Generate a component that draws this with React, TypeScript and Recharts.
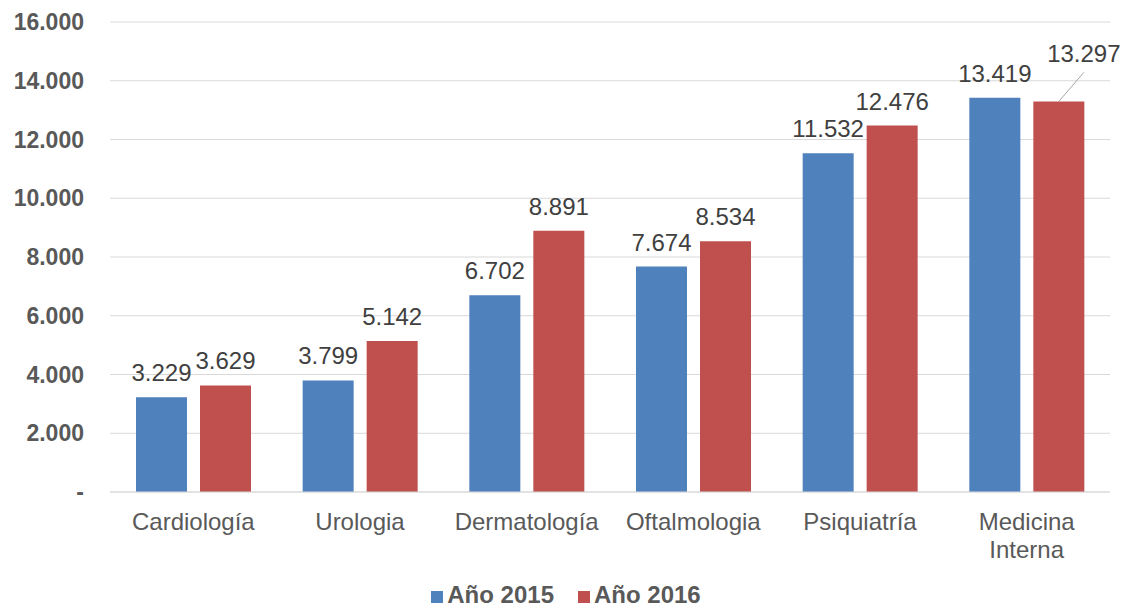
import { Bar, BarChart, CartesianGrid, LabelList, Legend, XAxis, YAxis } from "recharts"

const categories = ["Cardiología", "Urologia", "Dermatología", "Oftalmologia", "Psiquiatría", "Medicina Interna"]
const anio2015 = [3229, 3799, 6702, 7674, 11532, 13419]
const anio2016 = [3629, 5142, 8891, 8534, 12476, 13297]
const yTicks = [0, 2000, 4000, 6000, 8000, 10000, 12000, 14000, 16000]

const data = categories.map((name, i) => ({
  name,
  y2015: anio2015[i],
  y2016: anio2016[i],
}))

const FONT = "'Liberation Sans', Arial, sans-serif"
const BLUE = "#4F81BD"
const RED = "#C0504D"

const fmt = (v: number) => (v === 0 ? "-" : v.toLocaleString("de-DE"))

function XTick(props: any) {
  const { x, y, payload } = props
  const lines = String(payload.value).split(" ")
  return (
    <text x={x} y={y} textAnchor="middle" fill="#595959" fontSize={24} fontFamily={FONT}>
      {lines.map((l, i) => (
        <tspan key={i} x={x} dy={i === 0 ? 30 : 28}>
          {l}
        </tspan>
      ))}
    </text>
  )
}

function YTick(props: any) {
  const { x, y, payload } = props
  return (
    <text x={x - 18} y={y + 8} textAnchor="end" fill="#595959" fontSize={23} fontWeight="bold" fontFamily={FONT}>
      {fmt(payload.value)}
    </text>
  )
}

function ValueLabel(props: any) {
  const { x, y, width, value, index, series } = props
  const cx = x + width / 2
  // last red label sits up and to the right, joined by a leader line
  if (series === "2016" && index === categories.length - 1) {
    return (
      <g>
        <line x1={cx} y1={y} x2={cx + 25} y2={y - 29} stroke="#A6A6A6" strokeWidth={1} />
        <text x={cx + 25} y={y - 39} textAnchor="middle" fill="#404040" fontSize={24} fontFamily={FONT}>
          {fmt(value)}
        </text>
      </g>
    )
  }
  return (
    <text x={cx} y={y - 16} textAnchor="middle" fill="#404040" fontSize={24} fontFamily={FONT}>
      {fmt(value)}
    </text>
  )
}

function LegendContent() {
  const items = [
    { label: "Año 2015", color: BLUE },
    { label: "Año 2016", color: RED },
  ]
  return (
    <div
      style={{
        display: "flex",
        justifyContent: "center",
        gap: 24,
        fontFamily: FONT,
        fontSize: 24,
        lineHeight: "24px",
        fontWeight: "bold",
        color: "#595959",
      }}
    >
      {items.map((it) => (
        <div key={it.label} style={{ display: "flex", alignItems: "center", gap: 4 }}>
          <span style={{ width: 12, height: 12, marginTop: 4, background: it.color, display: "inline-block" }} />
          <span>{it.label}</span>
        </div>
      ))}
    </div>
  )
}

export default function App() {
  return (
    <div style={{ position: "absolute", left: 0, top: 0, width: 1128, height: 608, background: "#fff" }}>
      <BarChart
        width={1128}
        height={608}
        data={data}
        margin={{ top: 22, right: 18, left: 0, bottom: 0 }}
        barCategoryGap="15.6%"
        barGap={13}
      >
        <CartesianGrid vertical={false} stroke="#D9D9D9" />
        <XAxis dataKey="name" tick={<XTick />} tickLine={false} axisLine={{ stroke: "#D9D9D9" }} height={80} interval={0} />
        <YAxis
          domain={[0, 16000]}
          ticks={yTicks}
          tick={<YTick />}
          tickLine={false}
          axisLine={false}
          width={110}
        />
        <Legend
          verticalAlign="bottom"
          height={36}
          content={<LegendContent />}
          wrapperStyle={{ top: 583, bottom: "auto", left: 2, width: 1128 }}
        />
        <Bar dataKey="y2015" name="Año 2015" fill={BLUE} isAnimationActive={false}>
          <LabelList dataKey="y2015" content={<ValueLabel series="2015" />} />
        </Bar>
        <Bar dataKey="y2016" name="Año 2016" fill={RED} isAnimationActive={false}>
          <LabelList dataKey="y2016" content={<ValueLabel series="2016" />} />
        </Bar>
      </BarChart>
    </div>
  )
}
